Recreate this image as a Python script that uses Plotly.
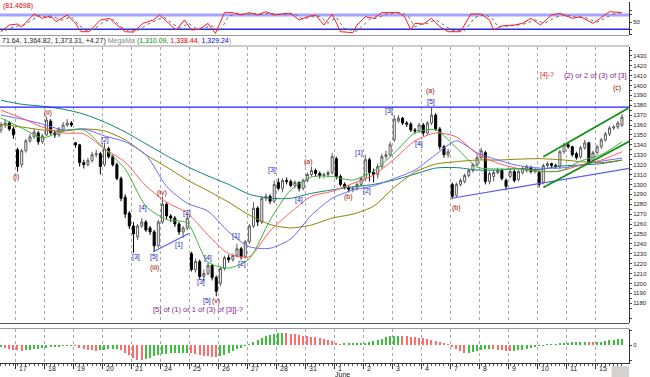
import plotly.graph_objects as go
from plotly.subplots import make_subplots

# ---------------- data ----------------
opens = [1355, 1360, 1362, 1356, 1335, 1320, 1334, 1344, 1348, 1352, 1343,
         1350, 1364, 1352, 1350, 1355, 1360, 1362,
         1342, 1340, 1322, 1320, 1324, 1330, 1331,
         1320, 1336, 1328, 1320, 1306, 1287, 1271,
         1258, 1247, 1258, 1262, 1256, 1252, 1238,
         1262, 1280, 1268, 1266, 1260, 1252, 1256,
         1230, 1214, 1222, 1207, 1210, 1218, 1206,
         1200, 1215, 1226, 1224, 1228, 1235, 1227,
         1242, 1258, 1276, 1262, 1286, 1288, 1283,
         1302, 1296, 1304, 1303, 1299, 1302, 1296,
         1304, 1310, 1314, 1311, 1309, 1310, 1312,
         1326, 1308, 1300, 1297, 1295, 1296, 1300,
         1306, 1325, 1312, 1310, 1318, 1328, 1330,
         1345, 1364, 1367, 1362, 1361, 1355, 1354,
         1360, 1352, 1362, 1370, 1356, 1338, 1330,
         1300, 1289, 1300, 1303, 1309, 1314, 1320,
         1327, 1332, 1303, 1308, 1312, 1314, 1304,
         1308, 1313, 1305, 1312, 1314, 1317, 1313,
         1312, 1302, 1319, 1321, 1319, 1318, 1333,
         1340, 1338, 1331, 1328, 1337, 1342, 1324,
         1332, 1338, 1345, 1351, 1357, 1358, 1360]
highs = [1363, 1366, 1364, 1358, 1337, 1336, 1346, 1351, 1356, 1354, 1351,
         1368, 1366, 1355, 1358, 1363, 1366, 1364,
         1343, 1341, 1325, 1327, 1333, 1335, 1333,
         1342, 1338, 1330, 1322, 1308, 1290, 1273,
         1262, 1260, 1266, 1264, 1258, 1254, 1264,
         1288, 1282, 1270, 1268, 1262, 1258, 1270,
         1232, 1225, 1224, 1214, 1221, 1220, 1208,
         1217, 1228, 1229, 1230, 1240, 1237, 1244,
         1260, 1282, 1278, 1288, 1291, 1290, 1304,
         1306, 1306, 1307, 1305, 1304, 1303, 1306,
         1312, 1318, 1316, 1313, 1312, 1314, 1332,
         1328, 1310, 1302, 1299, 1298, 1302, 1308,
         1330, 1327, 1316, 1321, 1331, 1334, 1343,
         1370, 1370, 1368, 1364, 1363, 1357, 1362,
         1362, 1364, 1378, 1372, 1358, 1340, 1336,
         1302, 1302, 1306, 1311, 1316, 1322, 1330,
         1337, 1334, 1313, 1314, 1317, 1316, 1306,
         1316, 1315, 1315, 1318, 1320, 1319, 1317,
         1314, 1321, 1323, 1322, 1321, 1335, 1342,
         1343, 1339, 1333, 1339, 1345, 1343, 1334,
         1340, 1347, 1353, 1359, 1360, 1364, 1371]
lows = [1352, 1357, 1354, 1346, 1313, 1317, 1332, 1342, 1346, 1340, 1341,
        1349, 1350, 1347, 1348, 1353, 1358, 1358,
        1337, 1318, 1316, 1318, 1322, 1327, 1310,
        1318, 1326, 1318, 1304, 1283, 1266, 1255,
        1231, 1244, 1256, 1252, 1249, 1232, 1236,
        1260, 1265, 1262, 1257, 1249, 1246, 1254,
        1212, 1211, 1204, 1202, 1208, 1203, 1187,
        1197, 1213, 1221, 1222, 1226, 1224, 1225,
        1240, 1256, 1258, 1260, 1283, 1280, 1281,
        1294, 1292, 1300, 1297, 1296, 1293, 1294,
        1302, 1308, 1308, 1306, 1306, 1307, 1310,
        1305, 1298, 1295, 1292, 1292, 1294, 1298,
        1303, 1303, 1302, 1306, 1316, 1325, 1328,
        1343, 1362, 1360, 1358, 1353, 1351, 1352,
        1349, 1350, 1360, 1354, 1335, 1327, 1327,
        1285, 1287, 1298, 1301, 1307, 1312, 1318,
        1325, 1300, 1300, 1303, 1310, 1304, 1294,
        1306, 1302, 1303, 1310, 1312, 1311, 1311,
        1297, 1300, 1317, 1317, 1316, 1316, 1331,
        1336, 1328, 1325, 1326, 1335, 1320, 1322,
        1330, 1336, 1343, 1349, 1355, 1356, 1358]
closes = [1360, 1362, 1356, 1350, 1318, 1334, 1344, 1348, 1353, 1343, 1349,
          1365, 1352, 1350, 1356, 1360, 1362, 1360,
          1340, 1322, 1320, 1324, 1330, 1331, 1318,
          1336, 1328, 1320, 1306, 1286, 1270, 1258,
          1250, 1258, 1262, 1254, 1252, 1238, 1262,
          1280, 1268, 1266, 1260, 1252, 1256, 1266,
          1214, 1222, 1207, 1210, 1218, 1206, 1192,
          1215, 1226, 1224, 1228, 1235, 1227, 1242,
          1258, 1276, 1262, 1286, 1288, 1283, 1300,
          1296, 1304, 1303, 1299, 1302, 1296, 1304,
          1310, 1314, 1311, 1309, 1310, 1312, 1328,
          1308, 1300, 1297, 1295, 1296, 1300, 1306,
          1325, 1312, 1310, 1318, 1328, 1330, 1340,
          1366, 1367, 1362, 1361, 1355, 1354, 1360,
          1352, 1362, 1370, 1356, 1338, 1330, 1333,
          1288, 1300, 1304, 1309, 1314, 1320, 1327,
          1334, 1303, 1311, 1312, 1314, 1306, 1298,
          1313, 1304, 1313, 1316, 1318, 1313, 1315,
          1300, 1319, 1321, 1319, 1318, 1333, 1340,
          1338, 1330, 1327, 1337, 1342, 1322, 1332,
          1338, 1345, 1351, 1357, 1358, 1362, 1368]

# moving averages sampled every 5 bars
ma_index = [0, 5, 10, 15, 20, 25, 30, 35, 40, 45, 50, 55, 60, 65, 70, 75,
            80, 85, 90, 95, 100, 105, 110, 115, 120, 125, 130, 135, 140, 145, 150]
ma_teal = [1385, 1381, 1379, 1376, 1371, 1363, 1353, 1341, 1329, 1318, 1308.5,
           1300, 1290, 1286, 1286, 1291, 1294.5, 1297.5, 1300, 1304.5, 1310.5,
           1316.5, 1317, 1314.5, 1314.5, 1316, 1315, 1318.5, 1319.5, 1321, 1324.5]
ma_olive = [1360.7, 1358, 1355, 1354, 1356, 1354, 1345, 1330, 1317.5, 1304.5,
            1293.5, 1282, 1269, 1259.5, 1256, 1259, 1266, 1270, 1278, 1297,
            1312.5, 1320.5, 1323, 1324.6, 1324.6, 1325.5, 1326, 1325, 1323, 1322, 1324.5]
ma_blue = [1370, 1366, 1361, 1355, 1356, 1349, 1343, 1330, 1298, 1281, 1273,
           1252, 1237, 1235.5, 1245, 1269, 1286, 1294.3, 1298.5, 1306, 1314.5,
           1330, 1344, 1332, 1324.6, 1319, 1316.5, 1316.5, 1319.5, 1323.5, 1326.5]
ma_red = [1375, 1367, 1358, 1352, 1351, 1336, 1322.5, 1298.5, 1282, 1271, 1249,
          1230, 1227, 1253, 1272, 1288, 1293, 1301, 1309.5, 1325.6, 1344, 1352,
          1348, 1331, 1321.5, 1316, 1313.5, 1313.5, 1319.5, 1324.6, 1333]
ma_green = [1367, 1357, 1347, 1354, 1355, 1336, 1315.5, 1278, 1264.5, 1261,
            1221.5, 1215.5, 1225, 1264, 1294.3, 1307.5, 1308, 1304.4, 1313.5,
            1331.7, 1352, 1355, 1337, 1317.5, 1315.5, 1315.5, 1313, 1313.5,
            1323.5, 1330, 1343]

# oscillator (top panel)
osc_index = [0, 2, 4, 5, 8, 10, 12, 13.3, 16, 18, 19.3, 21.3, 24, 26.3, 28, 30,
             32, 34.3, 36.8, 38.3, 40.5, 42.3, 44.3, 46, 48, 50, 51.8, 54, 56,
             58, 60, 62, 64, 66, 68, 70, 72, 74, 76, 78, 80, 82, 85, 86, 88, 90,
             92, 94, 96, 97.5, 99, 100, 102, 104, 106, 108, 111, 113.5, 116,
             118, 119, 121, 124, 126, 128, 130.3, 133, 135, 138, 140, 143, 147, 150]
osc_main = [10, 38, 42, 30, 84, 66, 76, 52, 80, 45, 10, 10, 59, 66, 38, 10,
            8, 45, 59, 80, 45, 17, 59, 17, 20, 45, 3, 90, 90,
            80, 90, 80, 94, 80, 85, 87, 59, 73, 80, 38, 84, 10, 6, 38, 73, 66,
            90, 90, 90, 73, 17, 45, 42, 66, 31, 10, 10, 84, 84,
            59, 17, 34, 38, 45, 66, 38, 80, 87, 66, 73, 45, 94, 90]
sig_index = [1, 3, 5.5, 7, 9.5, 11, 13, 14.5, 17, 19, 20.5, 22.5, 25, 27.3, 29,
             31, 33, 35.3, 37.8, 39.3, 41.5, 43.3, 45.3, 47, 49, 51, 52.8, 55,
             57, 59, 61, 63, 65, 67, 69, 71, 73, 75, 77, 79, 81, 83, 86, 87, 89,
             91, 93, 95, 97, 98.5, 100, 101, 103, 105, 107, 109, 112, 114.5,
             117, 119, 120, 122, 125, 127, 129, 131.3, 134, 136, 139, 141, 144, 148, 150]
sig_vals = [15, 30, 38, 55, 80, 70, 70, 58, 72, 35, 15, 20, 55, 60, 30,
            12, 15, 40, 58, 72, 42, 25, 45, 25, 25, 35, 10, 75,
            88, 82, 86, 82, 88, 82, 84, 84, 62, 72, 75, 45, 70, 22, 12, 30, 62,
            68, 84, 88, 88, 72, 30, 40, 45, 60, 38, 15, 14, 70,
            82, 60, 30, 32, 38, 45, 60, 45, 70, 82, 70, 70, 50, 85, 90]

# histogram (bottom panel), one value per bar
hist_vals = [-1.5, -2.5, -3.5, -4.5, -5, -5.5,
             -5, -4.5, -4, -3.5, -3,
             -2.5, -2, -1.5, -1.2, -1, -0.8, -0.5,
             -1, -2.5, -3.5, -4.5, -5, -5.5,
             -5, -4.5, -4, -3.8, -3.6,
             -5, -7.5, -10, -12.5, -14.5,
             -15,
             -14, -12.5, -11, -10, -9, -8.5,
             -8.2, -8, -7.8, -7.6, -7.5,
             -8, -9, -10, -10.5, -11, -11.5, -11.8,
             -11, -9.5, -8, -6, -4, -2.5, -1,
             1, 3, 5, 7, 9, 10.5, 11.5, 12.3,
             12.5,
             12, 11.5, 11, 10, 9.5, 9, 8.5, 8, 7, 6, 5, 4, 2.5, 1,
             1.2, 1.4, 1.6, 1.8, 2, 2.3,
             2.8, 3.8, 5, 6.5, 8, 9, 9.3, 9.5,
             9.2, 8.8, 8.3, 7.8, 7.2, 6.6, 6, 5.3, 4.5, 3.5, 2, 0.5,
             -2, -4, -6, -8,
             -7.5, -7, -6, -5, -4, -3.5,
             -4, -4.5, -5, -5.5, -5.8,
             -5.5, -5, -4.5, -3.5, -2.5, -1.8, -1, -0.3,
             0.2, 0.5, 0.8,
             1.5, 2, 2.5, 3, 3.1, 3.2, 3.3, 3, 2.8,
             3, 3.5, 4, 4.8, 5.5, 6, 6.2]

day_labels = ["17", "18", "19", "20", "21", "24", "25", "26", "27", "28", "31",
              "1", "2", "3", "4", "7", "8", "9", "10", "11", "15"]
month_label = "June"

resistance_level = 1378
# trend lines: (bar index, price) endpoints
trend_blue_short = [(36.8, 1232), (45.5, 1250.6)]
trend_blue_long = [(108.9, 1286), (151.9, 1316.3)]
channel_upper = [(131.0, 1328), (151.5, 1376.9)]
channel_lower = [(131.0, 1296.9), (151.9, 1343.8)]

wave_text = ["(i)", "(ii)", "[2]", "[3]", "[4]", "[5]", "(iii)", "(iv)", "[1]", "[2]",
             "[3]", "[4]", "[5]", "(v)", "[1]", "[2]", "[3]", "[4]", "(a)", "(b)",
             "[1]", "[2]", "[3]", "[4]", "[5]", "(a)", "(b)", "(c)", "[4]-?",
             "(2) or 2 of (3) of [3]", "[5] of (1) or 1 of (3) of [3]]-?"]
wave_x = [3.6, 11.4, 25.1, 32.6, 34.3, 37.0, 37.2, 38.8, 43.0, 44.9,
          48.3, 50.1, 49.8, 51.9, 56.8, 58.1, 65.5, 72.1, 74.2, 83.9,
          86.5, 88.5, 93.8, 101.0, 103.8, 103.8, 110.1, 148.8, 131.8,
          143.5, 47.6]
wave_y = [1307, 1372, 1345, 1227, 1276, 1227, 1216, 1291, 1239, 1271,
          1201, 1226, 1182, 1182, 1248, 1220, 1315, 1284, 1323, 1287,
          1332, 1293, 1374, 1340.5, 1383.5, 1394.3, 1276.5, 1397, 1410.5,
          1410.5, 1174]
wave_kind = ["minor", "minor", "sub", "sub", "sub", "sub", "minor", "minor", "sub", "sub",
             "sub", "sub", "sub", "minor", "sub", "sub", "sub", "sub", "minor", "minor",
             "sub", "sub", "sub", "sub", "sub", "minor", "minor", "minor", "alert",
             "note", "note"]

# ---------------- styles ----------------
FONT = "Liberation Sans"
kind_color = {"minor": "#960000", "sub": "#1c1cb4", "alert": "#e01818", "note": "#8a1a8a"}
ma_styles = [(ma_teal, "#0f8078"), (ma_olive, "#8a8200"), (ma_blue, "#6a6aff"),
             (ma_red, "#ff5c5c"), (ma_green, "#3cb43c")]

n_bars = len(closes)
bar_index = list(range(n_bars))
day_start = [3.5 + 7 * k for k in range(len(day_labels))]
x_range = [-0.24, 151.7]

fig = make_subplots(rows=3, cols=1, shared_xaxes=True, vertical_spacing=0.01)

# top oscillator
fig.add_trace(go.Scatter(x=sig_index, y=sig_vals, mode="lines",
                         line=dict(color="#6e6e6e", width=1, dash="dot"),
                         hoverinfo="skip"), row=1, col=1)
fig.add_trace(go.Scatter(x=osc_index, y=osc_main, mode="lines",
                         line=dict(color="#ff1a1a", width=1),
                         hoverinfo="skip"), row=1, col=1)

# moving averages
for vals, col in ma_styles:
    fig.add_trace(go.Scatter(x=ma_index, y=vals, mode="lines",
                             line=dict(color=col, width=1, shape="spline", smoothing=0.7),
                             hoverinfo="skip"), row=2, col=1)

# candles
fig.add_trace(go.Candlestick(x=bar_index, open=opens, high=highs, low=lows, close=closes,
                             increasing=dict(fillcolor="white", line=dict(color="#5a5a5a", width=1)),
                             decreasing=dict(fillcolor="black", line=dict(color="black", width=1)),
                             whiskerwidth=0), row=2, col=1)

# trend lines
for seg, col, w in [(trend_blue_short, "#5c5cf0", 1.2), (trend_blue_long, "#5c5cf0", 1.2),
                    (channel_upper, "#109010", 1.6), (channel_lower, "#109010", 1.6)]:
    fig.add_trace(go.Scatter(x=[seg[0][0], seg[1][0]], y=[seg[0][1], seg[1][1]], mode="lines",
                             line=dict(color=col, width=w), hoverinfo="skip"), row=2, col=1)

# histogram
hist_colors = ["#3cbf3c" if i == 0 or hist_vals[i] >= hist_vals[i - 1] else "#ff6a6a"
               for i in range(len(hist_vals))]
fig.add_trace(go.Bar(x=bar_index, y=hist_vals, marker=dict(color=hist_colors, line=dict(width=0)),
                     width=0.32, hoverinfo="skip"), row=3, col=1)

def py(pix):
    return 1 - pix / 377.0

fig.update_layout(
    width=650, height=377, margin=dict(l=0, r=21, t=0, b=0),
    paper_bgcolor="white", plot_bgcolor="white", showlegend=False,
    font=dict(family=FONT, size=7, color="#222222"), bargap=0,
)

axis_font = dict(family=FONT, size=6, color="#222222")
fig.update_xaxes(range=x_range, rangeslider=dict(visible=False), showticklabels=False,
                 zeroline=False)
fig.layout.xaxis.update(showgrid=False, ticks="")
fig.layout.xaxis2.update(tickmode="array", tickvals=day_start, showgrid=True,
                         gridcolor="#a8a8a8", griddash="dot", gridwidth=1, ticks="")
fig.layout.xaxis3.update(tickmode="array", tickvals=day_start, showgrid=True,
                         gridcolor="#a8a8a8", griddash="dot", gridwidth=1,
                         ticks="outside", ticklen=5, tickcolor="#333", showline=True,
                         linecolor="#333", linewidth=1,
                         minor=dict(tickmode="array", tickvals=bar_index, ticks="outside",
                                    ticklen=2, tickcolor="#555", showgrid=False))

fig.layout.yaxis.update(domain=[py(35), py(2)], range=[-3.9, 134.5], side="right",
                        tickmode="array", tickvals=[0, 20, 50, 80, 100],
                        ticktext=["", "", "50", "", ""], ticks="outside", ticklen=2,
                        showline=True, linecolor="#333", showgrid=False, zeroline=False,
                        tickfont=axis_font, ticklabeloverflow="allow")
fig.layout.yaxis2.update(domain=[py(323), py(47)], range=[1160, 1438.8], side="right",
                         tickmode="array", tickvals=list(range(1180, 1431, 10)),
                         ticks="outside", ticklen=2, showline=True, linecolor="#333",
                         showgrid=False, zeroline=False, tickfont=axis_font,
                         ticklabeloverflow="allow",
                         minor=dict(tickmode="array", tickvals=list(range(1165, 1436, 10)),
                                    ticks="outside", ticklen=2, showgrid=False))
fig.layout.yaxis3.update(domain=[py(363), py(329)], range=[-18, 16], side="right",
                         tickmode="array", tickvals=[-15, 0, 15], ticktext=["", "0", ""],
                         ticks="outside", ticklen=2, showline=True, linecolor="#333",
                         showgrid=False, zeroline=False, tickfont=axis_font,
                         ticklabeloverflow="allow")

shapes = [
    dict(type="line", xref="x domain", yref="y", x0=0, x1=1, y0=80, y1=80,
         line=dict(color="#a4a4ff", width=3), layer="below"),
    dict(type="line", xref="x domain", yref="y", x0=0, x1=1, y0=20, y1=20,
         line=dict(color="#2a2ae6", width=1.5), layer="below"),
    dict(type="line", xref="x2 domain", yref="y2", x0=0, x1=1,
         y0=resistance_level, y1=resistance_level, line=dict(color="#1e1eff", width=1.3)),
    dict(type="line", xref="paper", yref="paper", x0=0, x1=1, y0=py(35.5), y1=py(35.5),
         line=dict(color="#9a9a9a", width=1)),
    dict(type="line", xref="paper", yref="paper", x0=0, x1=1, y0=py(46), y1=py(46),
         line=dict(color="#9a9a9a", width=1)),
    dict(type="line", xref="paper", yref="paper", x0=0, x1=1, y0=py(323.5), y1=py(323.5),
         line=dict(color="#555555", width=1)),
    dict(type="line", xref="paper", yref="paper", x0=0, x1=1, y0=py(328.5), y1=py(328.5),
         line=dict(color="#9a9a9a", width=1)),
    dict(type="rect", xref="paper", yref="paper", x0=632 / 650, x1=1, y0=0, y1=py(366),
         fillcolor="#d6d3ce", line=dict(width=0)),
]
fig.update_layout(shapes=shapes)

ann = []
for t, x, y, k in zip(wave_text, wave_x, wave_y, wave_kind):
    ann.append(dict(x=x, y=y, xref="x2", yref="y2", text=t, showarrow=False,
                    font=dict(family=FONT, size=7.5 if k == "note" else 7, color=kind_color[k]),
                    xanchor="center", yanchor="middle"))
for lab, xs in zip(day_labels, day_start):
    ann.append(dict(x=xs, y=py(368.5), xref="x3", yref="paper", text=lab, showarrow=False,
                    xanchor="left", yanchor="middle", xshift=1.5,
                    font=dict(family=FONT, size=7, color="#222")))
ann.append(dict(x=day_start[11], y=py(374.5), xref="x3", yref="paper", text=month_label,
                showarrow=False, xanchor="left", yanchor="middle", xshift=-1,
                font=dict(family=FONT, size=7, color="#222")))
ann.append(dict(x=0.002, y=py(6), xref="paper", yref="paper", text="(81.4698)", showarrow=False,
                xanchor="left", yanchor="middle", font=dict(family=FONT, size=7, color="#e00000")))
info = ("<span style='color:#222'>71.64, 1,364.82, 1,373.31, +4.27)</span> "
        "<span style='color:#8c8c8c'>MegaMa</span> "
        "<span style='color:#008800'>(1,310.09,</span> "
        "<span style='color:#e00000'>1,338.44,</span> "
        "<span style='color:#0000dd'>1,329.24</span>"
        "<span style='color:#8c8c8c'>)</span>")
ann.append(dict(x=0, y=py(40.5), xref="paper", yref="paper", text=info, showarrow=False,
                xanchor="left", yanchor="middle", font=dict(family=FONT, size=7, color="#222")))
fig.update_layout(annotations=ann)

fig.write_html("out.html", config={"displayModeBar": False})

# remove the default page margin so the 650x377 figure fills the window exactly
with open("out.html", "r", encoding="utf-8") as f:
    html = f.read()
html = html.replace("<head>", "<head><style>html,body{margin:0;padding:0;overflow:hidden;}</style>", 1)
with open("out.html", "w", encoding="utf-8") as f:
    f.write(html)
